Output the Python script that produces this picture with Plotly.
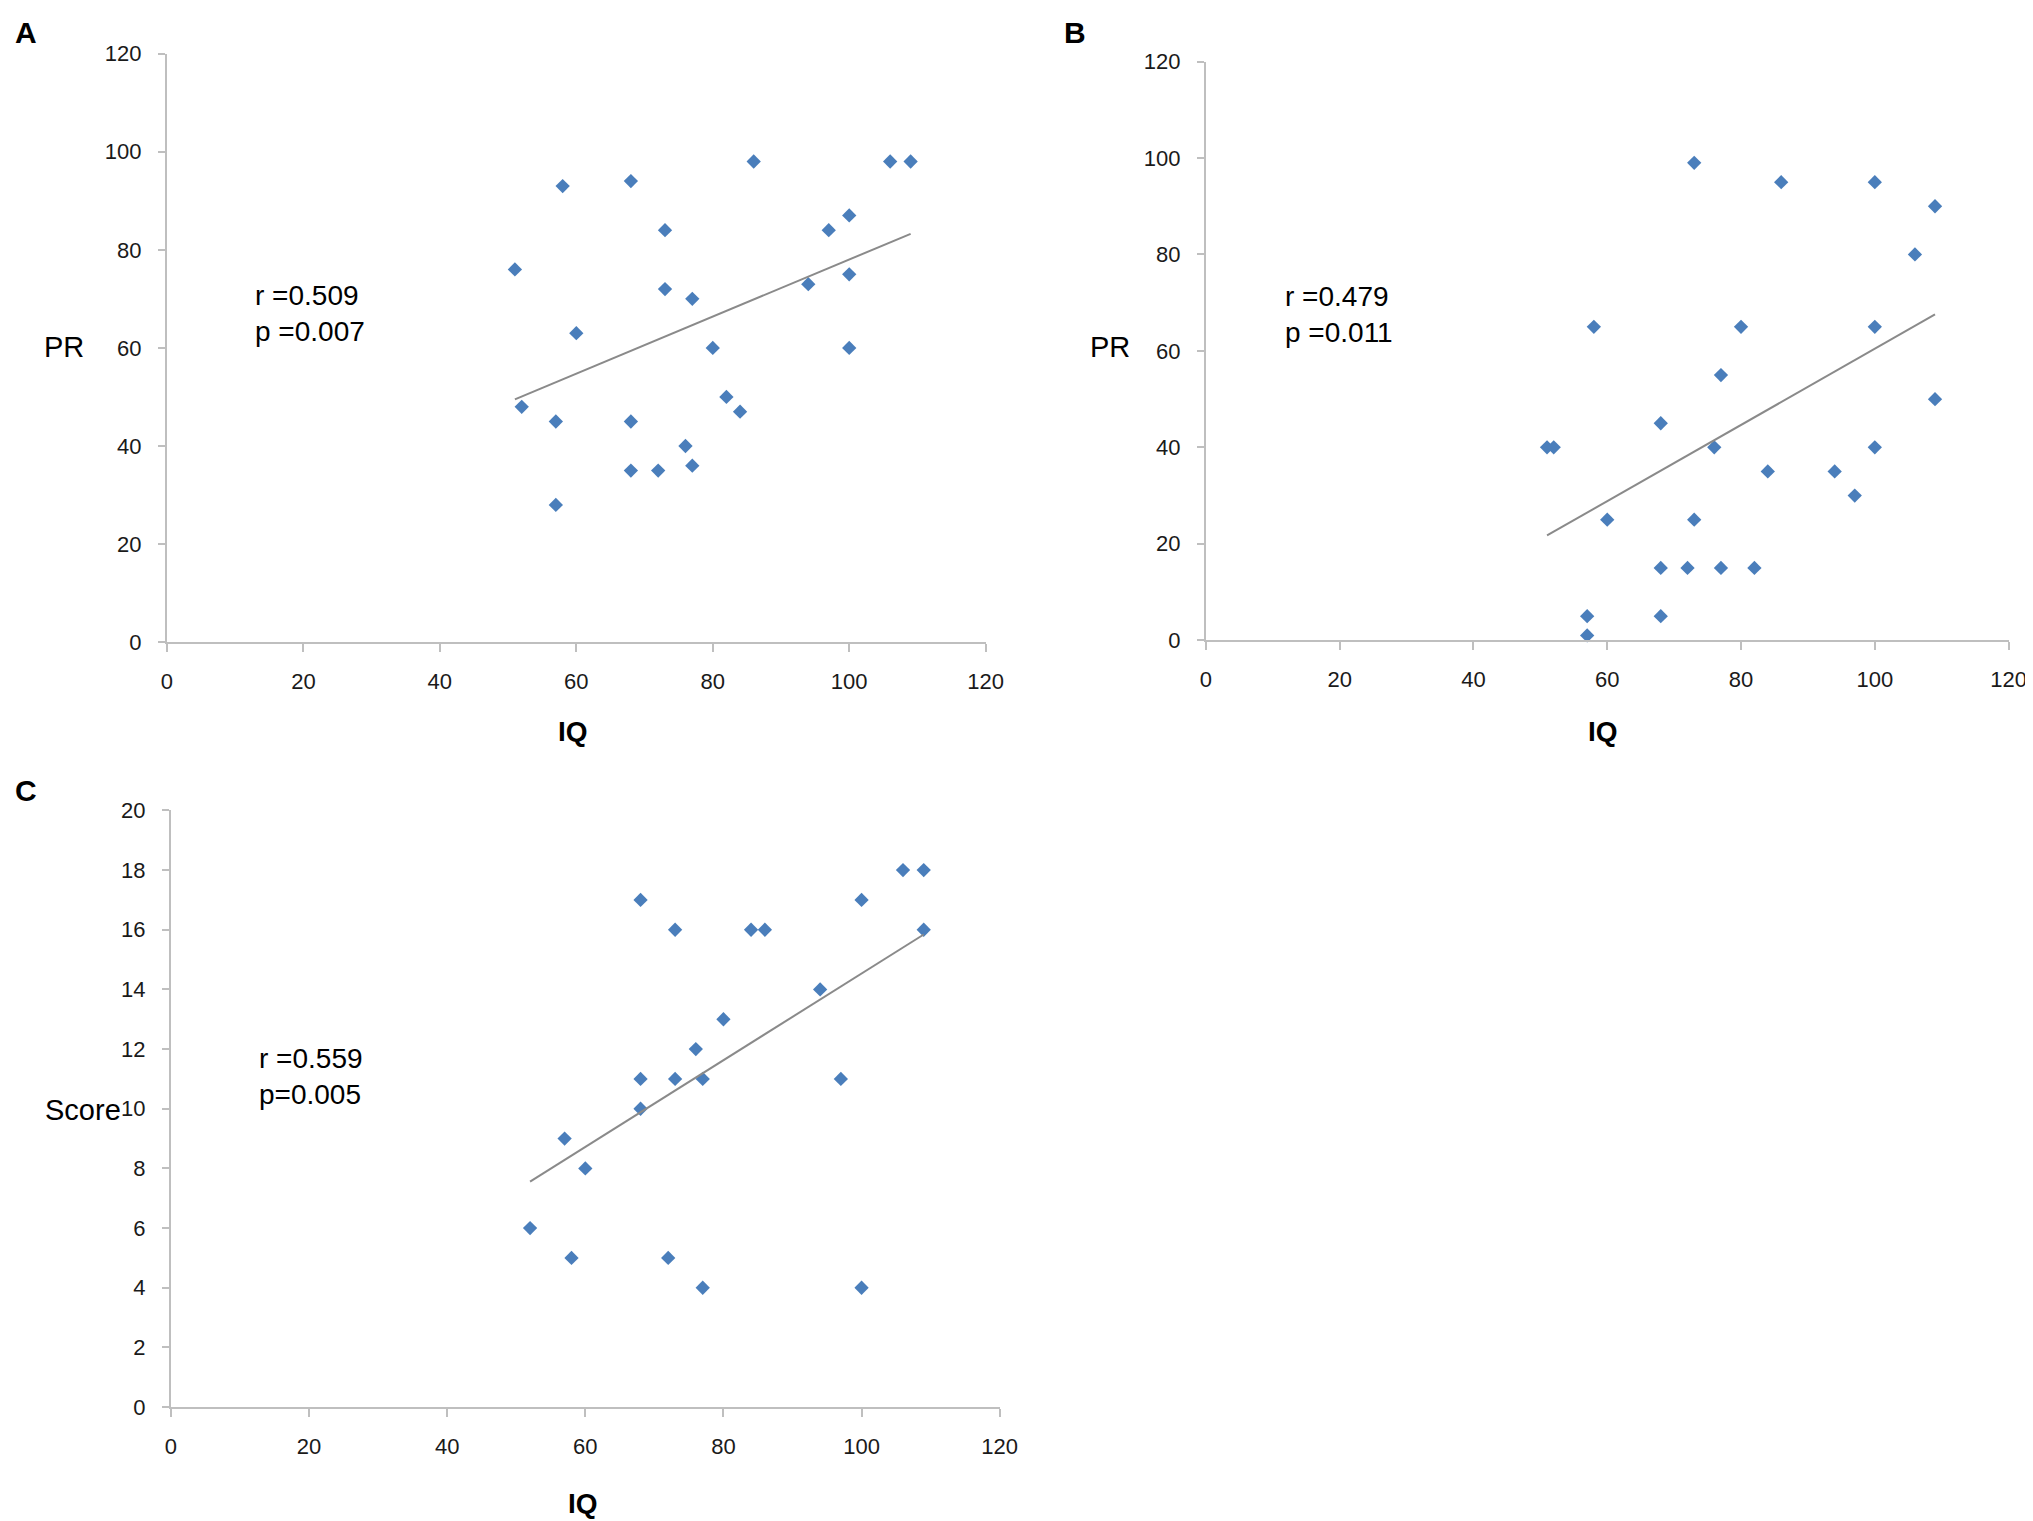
import numpy as np
import plotly.graph_objects as go

# panel A: PR vs IQ
iq_a = [51, 52, 57, 57, 58, 60, 68, 68, 68, 72, 73, 73, 76, 77, 77, 80, 82, 84, 86, 94, 97, 100, 100, 100, 106, 109]
pr_a = [76, 48, 45, 28, 93, 63, 94, 45, 35, 35, 84, 72, 40, 70, 36, 60, 50, 47, 98, 73, 84, 87, 75, 60, 98, 98]

# panel B: PR vs IQ
iq_b = [51, 52, 57, 57, 58, 60, 68, 68, 68, 72, 73, 73, 76, 77, 77, 80, 82, 84, 86, 94, 97, 100, 100, 100, 106, 109, 109]
pr_b = [40, 40, 5, 1, 65, 25, 45, 15, 5, 15, 99, 25, 40, 55, 15, 65, 15, 35, 95, 35, 30, 95, 65, 40, 80, 90, 50]

# panel C: Score vs IQ
iq_c = [52, 57, 58, 60, 68, 68, 68, 72, 73, 73, 76, 77, 77, 80, 84, 86, 94, 97, 100, 100, 106, 109, 109]
score_c = [6, 9, 5, 8, 17, 11, 10, 5, 16, 11, 12, 11, 4, 13, 16, 16, 14, 11, 17, 4, 18, 18, 16]

stats_a = "r =0.509<br>p =0.007"
stats_b = "r =0.479<br>p =0.011"
stats_c = "r =0.559<br>p=0.005"

W, H, OFF = 2050, 1535, 8
# calibration of the screenshot against page pixels (measured from earlier renders)
AX, SX = 6.3, 0.9874
AY, SY = 12.6, 0.9826


def px(x):
    return ((x - AX) / SX - OFF) / W


def py(y):
    return 1 - ((y - AY) / SY - OFF) / H


FONT = "Liberation Sans, Arial, sans-serif"
AX_COL = "#bfbfbf"
TXT = "#1a1a1a"
BLUE = "#4a7ebb"

fig = go.Figure()

panels = [
    (iq_a, pr_a, "x", "y"),
    (iq_b, pr_b, "x2", "y2"),
    (iq_c, score_c, "x3", "y3"),
]
for xs, ys, xa, ya in panels:
    fig.add_trace(go.Scatter(x=xs, y=ys, mode="markers", xaxis=xa, yaxis=ya,
                             marker=dict(symbol="diamond", size=11, color=BLUE),
                             cliponaxis=False, showlegend=False))
    # linear trend line (least squares)
    k, b = np.polyfit(xs, ys, 1)
    lx = [min(xs), max(xs)]
    fig.add_trace(go.Scatter(x=lx, y=[k * v + b for v in lx], mode="lines", xaxis=xa, yaxis=ya,
                             line=dict(color="#8a8a8a", width=2), showlegend=False))


def xaxis(x0, x1, anchor):
    return dict(domain=[px(x0), px(x1)], range=[0, 120], anchor=anchor,
                tickvals=[0, 20, 40, 60, 80, 100, 120], showgrid=False, zeroline=False,
                showline=True, linecolor=AX_COL, linewidth=2, ticks="outside",
                ticklen=8, tickwidth=2, tickcolor=AX_COL, ticklabelstandoff=10,
                tickfont=dict(family=FONT, size=22, color=TXT))


def yaxis(y0, y1, top, step, anchor):
    return dict(domain=[py(y0), py(y1)], range=[0, top], anchor=anchor,
                tickvals=list(range(0, top + 1, step)), showgrid=False, zeroline=False,
                showline=True, linecolor=AX_COL, linewidth=2, ticks="outside",
                ticklen=7, tickwidth=2, tickcolor=AX_COL, ticklabelstandoff=12,
                tickfont=dict(family=FONT, size=22, color=TXT))


fig.update_layout(
    width=W, height=H, margin=dict(l=0, r=0, t=0, b=0),
    paper_bgcolor="white", plot_bgcolor="white",
    xaxis=xaxis(167, 985, "y"), yaxis=yaxis(642, 54, 120, 20, "x"),
    xaxis2=xaxis(1205, 2007, "y2"), yaxis2=yaxis(640, 62, 120, 20, "x2"),
    xaxis3=xaxis(171, 999, "y3"), yaxis3=yaxis(1406, 810, 20, 2, "x3"),
)

labels = [
    ("A", 26, 33, 30, True, "center"),
    ("B", 1074, 33, 30, True, "center"),
    ("C", 26, 790, 30, True, "center"),
    ("PR", 64, 347, 29, False, "center"),
    ("PR", 1109, 347, 29, False, "center"),
    ("Score", 123, 1109, 29, False, "right"),
    ("IQ", 573, 731, 28, True, "center"),
    ("IQ", 1602, 731, 28, True, "center"),
    ("IQ", 583, 1502, 28, True, "center"),
]
for txt, x, y, size, bold, anchor in labels:
    fig.add_annotation(text=f"<b>{txt}</b>" if bold else txt, x=px(x), y=py(y),
                       xref="paper", yref="paper", xanchor=anchor, yanchor="middle",
                       showarrow=False, font=dict(family=FONT, size=size, color="black"))

for txt, x, y in [(stats_a, 253, 314), (stats_b, 1282, 315), (stats_c, 257, 1076)]:
    fig.add_annotation(text=txt, x=px(x), y=py(y), xref="paper", yref="paper",
                       xanchor="left", yanchor="middle", align="left", showarrow=False,
                       font=dict(family=FONT, size=28, color="black"))

fig.write_html("out.html", post_script="document.body.style.overflow='hidden';")
